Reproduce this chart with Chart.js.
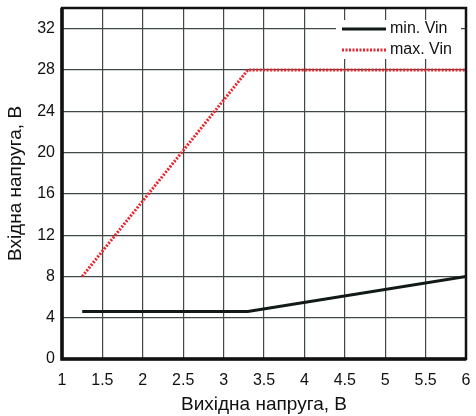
<!DOCTYPE html>
<html>
<head>
<meta charset="utf-8">
<script src="https://cdn.jsdelivr.net/npm/chart.js@4/dist/chart.umd.min.js"></script>
<style>
  html, body { margin: 0; padding: 0; background: #fff; }
  #wrap { width: 476px; height: 416px; }
</style>
</head>
<body>
<div id="wrap"><canvas id="vinChart" width="476" height="416"></canvas></div>
<script>
// values
var outVolt = [1.25, 3.3, 6];
var minVin = [4.6, 4.6, 8];
var maxVin = [8, 28, 28];
var xTicks = [1, 1.5, 2, 2.5, 3, 3.5, 4, 4.5, 5, 5.5, 6];
var yTicks = [0, 4, 8, 12, 16, 20, 24, 28, 32];
var seriesNames = ['min. Vin', 'max. Vin'];

var fontFam = "'Liberation Sans', Arial, sans-serif";

function toPoints(xs, ys){
  var pts = [];
  for (var i = 0; i < xs.length; i++) {
    pts.push({x: xs[i], y: ys[i]});
  }
  return pts;
}

// frame round the plot + legend inside the top right corner
var framePlugin = {
  id: 'frame',
  afterDatasetsDraw: function(chart){
    var ctx = chart.ctx, a = chart.chartArea;
    ctx.save();
    ctx.strokeStyle = '#111';
    ctx.lineWidth = 2.5;
    ctx.strokeRect(a.left, a.top, a.right - a.left, a.bottom - a.top);
    // left and bottom axes a bit heavier
    ctx.lineWidth = 3.5;
    ctx.beginPath();
    ctx.moveTo(a.left, a.top);
    ctx.lineTo(a.left, a.bottom);
    ctx.lineTo(a.right, a.bottom);
    ctx.stroke();

    // legend
    var bx = 336, by = 20, bw = 125, bh = 39;
    ctx.fillStyle = '#fff';
    ctx.fillRect(bx, by, bw, bh);
    chart.data.datasets.forEach(function(ds, i){
      var yy = by + 9 + i * 21;
      ctx.beginPath();
      ctx.strokeStyle = ds.borderColor;
      ctx.lineWidth = ds.borderWidth;
      ctx.setLineDash(ds.borderDash || []);
      ctx.moveTo(bx + 6, yy);
      ctx.lineTo(bx + 50, yy);
      ctx.stroke();
      ctx.setLineDash([]);
      ctx.fillStyle = '#111';
      ctx.font = '16px ' + fontFam;
      ctx.textBaseline = 'middle';
      ctx.fillText(ds.label, bx + 54, yy);
    });
    ctx.restore();
  }
};

var ctx = document.getElementById('vinChart').getContext('2d');
var chart = new Chart(ctx, {
  type: 'line',
  data: {
    datasets: [{
      label: seriesNames[0],
      data: toPoints(outVolt, minVin),
      borderColor: '#111a18',
      borderWidth: 3,
      pointRadius: 0,
      fill: false,
      tension: 0
    }, {
      label: seriesNames[1],
      data: toPoints(outVolt, maxVin),
      borderColor: '#e8242c',
      borderWidth: 3,
      borderDash: [2, 1.5],
      pointRadius: 0,
      fill: false,
      tension: 0
    }]
  },
  options: {
    responsive: false,
    animation: false,
    layout: { padding: { top: 8, right: 10, left: 0, bottom: 0 } },
    plugins: {
      legend: { display: false },
      tooltip: { enabled: false }
    },
    scales: {
      x: {
        type: 'linear',
        min: 1,
        max: 6,
        afterBuildTicks: function(scale){
          scale.ticks = xTicks.map(function(v){ return {value: v}; });
        },
        afterFit: function(scale){
          scale.height = 57;
          scale.paddingRight = 0;
        },
        grid: { color: '#3f4845', lineWidth: 1.2, drawTicks: false },
        border: { display: false },
        ticks: {
          color: '#111',
          padding: 12,
          maxRotation: 0,
          autoSkip: false,
          font: { family: fontFam, size: 16 },
          callback: function(v){ return String(v); }
        },
        title: {
          display: true,
          text: 'Вихідна напруга, В',
          color: '#111',
          padding: { top: 4, bottom: 0 },
          font: { family: fontFam, size: 19 }
        }
      },
      y: {
        type: 'linear',
        min: 0,
        max: 34,
        afterBuildTicks: function(scale){
          scale.ticks = yTicks.map(function(v){ return {value: v}; });
        },
        afterFit: function(scale){
          scale.width = 62;
          scale.paddingTop = 0;
        },
        grid: { color: '#3f4845', lineWidth: 1.2, drawTicks: false },
        border: { display: false },
        ticks: {
          color: '#111',
          padding: 7,
          font: { family: fontFam, size: 16 }
        },
        title: {
          display: true,
          text: 'Вхідна напруга, В',
          color: '#111',
          padding: { bottom: 2 },
          font: { family: fontFam, size: 19 }
        }
      }
    }
  },
  plugins: [framePlugin]
});
</script>
</body>
</html>
